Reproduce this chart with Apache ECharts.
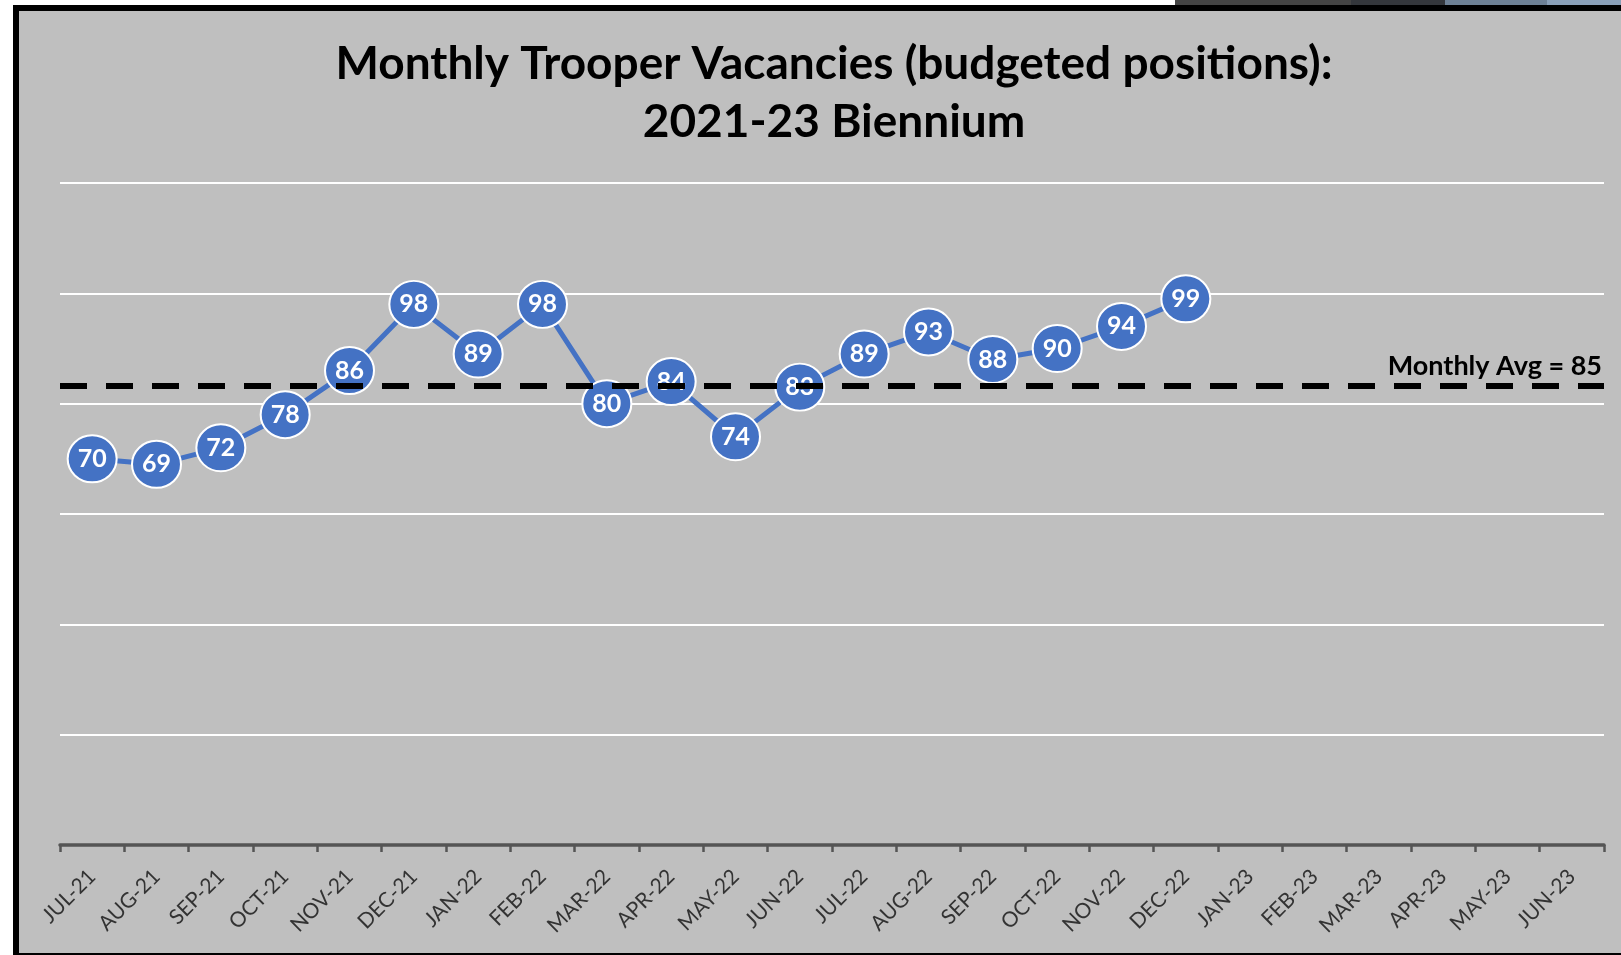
<!DOCTYPE html>
<html>
<head>
<meta charset="utf-8">
<script src="https://cdn.jsdelivr.net/npm/echarts@6/dist/echarts.min.js"></script>
<style>
  html, body { margin: 0; padding: 0; background: #ffffff; overflow: hidden; scrollbar-width: none; }
  ::-webkit-scrollbar { width: 0; height: 0; display: none; }
  body { width: 1621px; height: 955px; position: relative; }
  #frame { position: absolute; left: 13px; top: 5px; width: 1608px; height: 950px; box-sizing: border-box;
           border-left: 6px solid #000; border-top: 6px solid #000; border-bottom: 2px solid #000; background: #bfbfbf; }
  .strip { position: absolute; top: 0; height: 5px; }
  #chart { position: absolute; left: 0; top: 0; width: 1621px; height: 955px; }
</style>
</head>
<body>
<div class="strip" style="left:1175px;width:176px;background:#444444"></div>
<div class="strip" style="left:1351px;width:94px;background:#34373c"></div>
<div class="strip" style="left:1445px;width:102px;background:#6e8196"></div>
<div class="strip" style="left:1547px;width:74px;background:#8aa0b8"></div>
<div id="frame"></div>
<div id="chart"></div>
<script>
const months = ['JUL-21','AUG-21','SEP-21','OCT-21','NOV-21','DEC-21','JAN-22','FEB-22','MAR-22','APR-22','MAY-22','JUN-22',
                'JUL-22','AUG-22','SEP-22','OCT-22','NOV-22','DEC-22','JAN-23','FEB-23','MAR-23','APR-23','MAY-23','JUN-23'];
const vacancies = [70, 69, 72, 78, 86, 98, 89, 98, 80, 84, 74, 83, 89, 93, 88, 90, 94, 99];
const avgLineValue = 83.2;
const avgLabel = 'Monthly Avg = 85';
const titleLines = ['Monthly Trooper Vacancies (budgeted positions):', '2021-23 Biennium'];

const chart = echarts.init(document.getElementById('chart'));
chart.setOption({
  backgroundColor: 'transparent',
  animation: false,
  title: {
    text: titleLines.join('\n'),
    left: 829, top: 30, textAlign: 'center',
    textStyle: { fontFamily: 'Lato', fontWeight: 'bold', fontSize: 46, lineHeight: 58, color: '#000' }
  },
  grid: { left: 60, right: 17, top: 183, bottom: 110 },
  xAxis: {
    type: 'category',
    data: months,
    boundaryGap: true,
    axisLine: { show: true, lineStyle: { color: '#555555', width: 3.5 } },
    axisTick: { show: true, length: 7, lineStyle: { color: '#555555', width: 2.5 } },
    axisLabel: { rotate: 45, interval: 0, margin: 28, fontFamily: 'Lato', fontSize: 21, color: '#333333' },
    splitLine: { show: false }
  },
  yAxis: {
    type: 'value', min: 0, max: 120, interval: 20,
    axisLabel: { show: false }, axisLine: { show: false }, axisTick: { show: false },
    splitLine: { show: true, lineStyle: { color: '#ffffff', width: 2 } }
  },
  series: [
    {
      type: 'line',
      data: vacancies,
      symbol: 'circle',
      symbolSize: [49, 47],
      lineStyle: { color: '#4472c4', width: 5 },
      itemStyle: { color: '#4472c4', borderColor: '#ffffff', borderWidth: 2 },
      label: { show: true, position: 'inside', color: '#ffffff', fontFamily: 'Lato', fontWeight: 'bold', fontSize: 25 },
      z: 2
    },
    {
      type: 'line',
      data: [],
      z: 10,
      markLine: {
        silent: true,
        symbol: 'none',
        animation: false,
        data: [{ yAxis: avgLineValue }],
        lineStyle: { color: '#000000', width: 6, type: [27, 19] },
        label: {
          show: true, position: 'insideEndTop', formatter: avgLabel, distance: [2, 6],
          fontFamily: 'Lato', fontWeight: 'bold', fontSize: 27, color: '#000'
        },
        emphasis: { disabled: true }
      }
    }
  ]
});
</script>
</body>
</html>
